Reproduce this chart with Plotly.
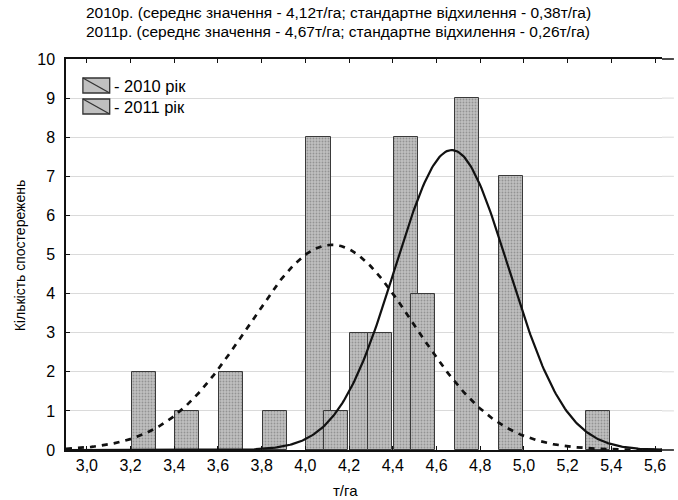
import numpy as np
import plotly.graph_objects as go

# Histogram bins (bin centres, t/ha) and observation counts per bin
bins_2010 = [3.3, 3.5, 3.7, 3.9, 4.1, 4.3, 4.5]
counts_2010 = [2, 1, 2, 1, 8, 3, 8]
bins_2011 = [4.1, 4.3, 4.5, 4.7, 4.9, 5.3]
counts_2011 = [1, 3, 4, 9, 7, 1]

# Summary statistics quoted in the heading
mean_2010, sd_2010 = 4.12, 0.38
mean_2011, sd_2011 = 4.67, 0.26
bin_width = 0.2

title_lines = [
    "2010р. (середнє значення - 4,12т/га; стандартне відхилення - 0,38т/га)",
    "2011р. (середнє значення - 4,67т/га; стандартне відхилення - 0,26т/га)",
]
legend_labels = ["- 2010 рік", "- 2011 рік"]
x_title = "т/га"
y_title = "Кількість спостережень"

W, H = 678, 500
ML, MR, MT, MB = 66, 12, 59, 50
PW, PH = W - ML - MR, H - MT - MB
PX_PER_UNIT = 220.0
X0 = 3.0 - (87 - ML) / PX_PER_UNIT
XR = X0 + PW / PX_PER_UNIT
Y_MAX = 10


def px_x(px):
    return (px - ML) / PW


def px_y(py):
    return (H - MB - py) / PH


def normal_counts(xs, n, mu, sd):
    # expected count per bin for a fitted normal distribution
    return n * bin_width / (sd * np.sqrt(2 * np.pi)) * np.exp(-0.5 * ((xs - mu) / sd) ** 2)


font = "Liberation Sans, Arial, sans-serif"
bar_style = dict(
    color="#c0c0c0",
    line=dict(color="#3a3a3a", width=1),
    pattern=dict(shape=".", fgcolor="#666666", size=3, solidity=0.3),
)

fig = go.Figure()
fig.add_trace(go.Bar(x=bins_2010, y=counts_2010, width=0.11, offset=-0.095,
                     marker=bar_style, name=legend_labels[0], showlegend=False))
fig.add_trace(go.Bar(x=bins_2011, y=counts_2011, width=0.11, offset=-0.015,
                     marker=bar_style, name=legend_labels[1], showlegend=False))

xs = np.linspace(X0, XR, 400)
fig.add_trace(go.Scatter(x=xs, y=normal_counts(xs, sum(counts_2010), mean_2010, sd_2010),
                         mode="lines", line=dict(color="#111", width=2.7, dash="6px,6px"),
                         showlegend=False, hoverinfo="skip"))
fig.add_trace(go.Scatter(x=xs, y=normal_counts(xs, sum(counts_2011), mean_2011, sd_2011),
                         mode="lines", line=dict(color="#111", width=2.2),
                         showlegend=False, hoverinfo="skip"))

annotations = []
for i, line in enumerate(title_lines):
    annotations.append(dict(text=line, xref="paper", yref="paper", x=px_x(340), y=px_y(13 + 18 * i),
                            xanchor="center", yanchor="middle", showarrow=False,
                            font=dict(family=font, size=15.5, color="#000")))
annotations.append(dict(text=x_title, xref="paper", yref="paper", x=px_x(347), y=px_y(490),
                        xanchor="center", yanchor="middle", showarrow=False,
                        font=dict(family=font, size=15, color="#000")))
annotations.append(dict(text=y_title, xref="paper", yref="paper", x=px_x(20), y=px_y(255),
                        xanchor="center", yanchor="middle", showarrow=False, textangle=-90,
                        font=dict(family=font, size=14, color="#000")))

shapes = []
# the frame and grid run on to the right edge of the page
edge = px_x(W)
for gy in range(1, Y_MAX):
    shapes.append(dict(type="line", xref="paper", yref="paper", x0=1, x1=edge,
                       y0=gy / Y_MAX, y1=gy / Y_MAX,
                       line=dict(color="#dadada", width=1), layer="below"))
for gy in (0, Y_MAX):
    shapes.append(dict(type="line", xref="paper", yref="paper", x0=1, x1=edge,
                       y0=gy / Y_MAX, y1=gy / Y_MAX,
                       line=dict(color="#111", width=1.5)))

for i, lab in enumerate(legend_labels):
    top = 78 + 21 * i
    shapes.append(dict(type="rect", xref="paper", yref="paper",
                       x0=px_x(83), x1=px_x(110), y0=px_y(top), y1=px_y(top + 15),
                       fillcolor="#c0c0c0", line=dict(color="#333", width=1.3)))
    shapes.append(dict(type="line", xref="paper", yref="paper",
                       x0=px_x(83), x1=px_x(110), y0=px_y(top), y1=px_y(top + 15),
                       line=dict(color="#333", width=1.3)))
    annotations.append(dict(text=lab, xref="paper", yref="paper", x=px_x(112), y=px_y(top + 8),
                            xanchor="left", yanchor="middle", showarrow=False,
                            font=dict(family=font, size=16.5, color="#000")))

fig.update_layout(
    width=W, height=H,
    margin=dict(l=ML, r=MR, t=MT, b=MB),
    paper_bgcolor="white", plot_bgcolor="white",
    barmode="overlay", bargap=0,
    separators=", ",
    annotations=annotations, shapes=shapes,
    font=dict(family=font, size=16, color="#000"),
)
fig.update_xaxes(range=[X0, XR], tick0=3.0, dtick=0.2, tickformat=".1f",
                 showline=True, linecolor="#111", linewidth=1.5, mirror="ticks",
                 ticks="inside", ticklen=4, tickcolor="#111", showgrid=False, zeroline=False,
                 tickfont=dict(family=font, size=16, color="#000"))
fig.update_yaxes(range=[0, Y_MAX], dtick=1, showline=True, linecolor="#111", linewidth=1.5,
                 ticks="inside", ticklen=4, tickcolor="#111", ticklabelstandoff=6,
                 showgrid=True, gridcolor="#dadada", gridwidth=1, zeroline=False,
                 tickfont=dict(family=font, size=16, color="#000"))

fig.write_html("out.html")
